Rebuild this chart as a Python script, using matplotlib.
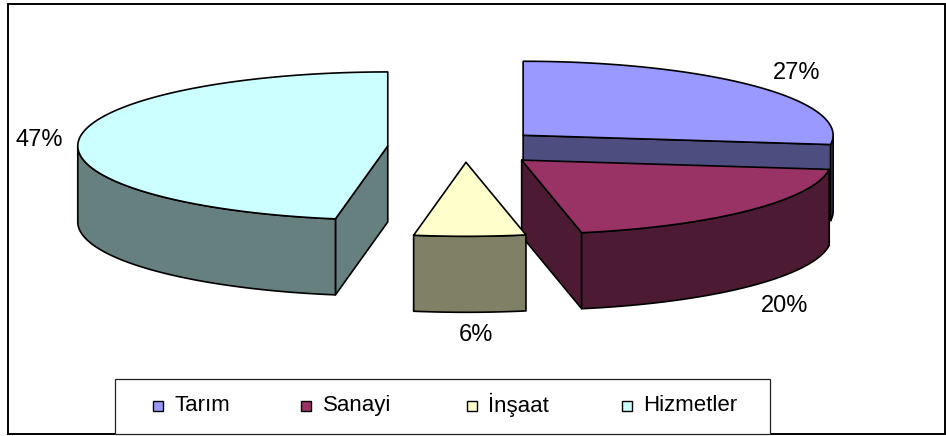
import numpy as np
import matplotlib
matplotlib.use("Agg")
import matplotlib.pyplot as plt
from matplotlib.patches import Polygon, Rectangle

# Share of employment by sector (labels show the rounded value)
sectors = ["Tarım", "Sanayi", "İnşaat", "Hizmetler"]
shares = [27.0, 19.9, 5.8, 47.3]

top_colors = ["#9999FF", "#993366", "#FFFFCC", "#CCFFFF"]
side_colors = ["#4D4D80", "#4D1A33", "#808066", "#668080"]

# Pie geometry in pixels (y goes down)
CX, CY = 465, 147.5
RX, RY = 310, 74
DEPTH = 76
EXPLODE_X = 0.25
explode_y = [0.25, 0.25, 0.2, 0.25]

legend_marker_x = [153, 301, 467, 622]
legend_text_x = [174, 323, 488, 643]
label_nudge = [(6, 1), (2, 4), (5, 1), (7, 2)]

plt.rcParams["font.family"] = ["Liberation Sans", "DejaVu Sans"]

fig = plt.figure(figsize=(9.46, 4.36), dpi=100)
ax = fig.add_axes([0, 0, 1, 1])
ax.set_xlim(0, 946)
ax.set_ylim(436, 0)
ax.axis("off")


def rim(x0, y0, a0, a1):
    # points on the ellipse, angles clockwise from 12 o'clock
    t = np.radians(np.linspace(a0, a1, 120))
    return np.column_stack([x0 + RX * np.sin(t), y0 - RY * np.cos(t)])


def face(pts, color, z):
    ax.add_patch(Polygon(pts, closed=True, facecolor=color, edgecolor="black",
                         linewidth=1.2, joinstyle="round", zorder=z))


# Outer frame
ax.add_patch(Rectangle((7.5, 4.5), 937, 429, fill=False, edgecolor="black", linewidth=1.4, zorder=1))

edges = np.cumsum([0] + shares) / sum(shares) * 360
draw_order = [3, 0, 1, 2]

for z, i in enumerate(draw_order):
    a0, a1 = edges[i], edges[i + 1]
    mid = np.radians((a0 + a1) / 2)
    x0 = CX + EXPLODE_X * RX * np.sin(mid)
    y0 = CY - explode_y[i] * RY * np.cos(mid)
    base = 10 + z * 5
    down = np.array([0, DEPTH])
    apex = np.array([[x0, y0]])

    # flat cut faces that look towards the viewer
    if a1 < 180:
        p = rim(x0, y0, a1, a1)[0]
        face([apex[0], p, p + down, apex[0] + down], side_colors[i], base)
    if a0 > 180:
        p = rim(x0, y0, a0, a0)[0]
        face([apex[0], p, p + down, apex[0] + down], side_colors[i], base)

    # curved outer wall, only the front half shows
    lo, hi = max(a0, 90), min(a1, 270)
    if lo < hi:
        arc = rim(x0, y0, lo, hi)
        face(np.vstack([arc, arc[::-1] + down]), side_colors[i], base + 1)

    # top of the slice
    face(np.vstack([apex, rim(x0, y0, a0, a1)]), top_colors[i], base + 2)

    # percent label outside the rim
    lx = x0 + 1.15 * RX * np.sin(mid) + label_nudge[i][0]
    ly = y0 - 1.3 * RY * np.cos(mid) + label_nudge[i][1]
    if np.cos(mid) < 0:
        ly += DEPTH
    ax.text(lx, ly, f"{round(shares[i])}%", ha="center", va="center", fontsize=17, zorder=40)

# Legend
ax.add_patch(Rectangle((115, 378.5), 655, 55, facecolor="white", edgecolor="#222222", linewidth=0.9, zorder=30))
for i, name in enumerate(sectors):
    ax.add_patch(Rectangle((legend_marker_x[i], 400.5), 10, 10, facecolor=top_colors[i],
                           edgecolor="black", linewidth=1.0, zorder=31))
    ax.text(legend_text_x[i], 405, name, ha="left", va="center", fontsize=16, zorder=31)

fig.savefig("out.png", dpi=100)
